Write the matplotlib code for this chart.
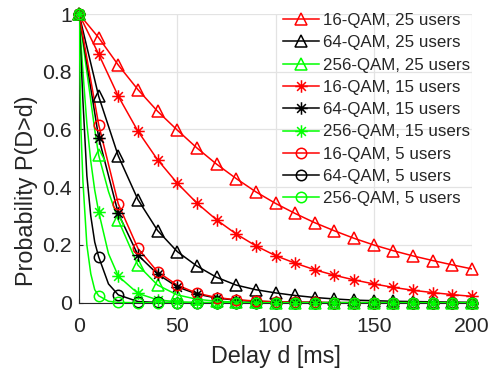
import matplotlib
matplotlib.use("Agg")
import matplotlib.pyplot as plt
from matplotlib.path import Path

# Delay grid at which the marker values are given (ms)
delay = list(range(0, 201, 10))

# P(D > d) for each modulation / user count
qam16_25 = [1, 0.918, 0.823, 0.738, 0.663, 0.598, 0.536, 0.480, 0.430, 0.384, 0.344,
            0.309, 0.277, 0.249, 0.223, 0.200, 0.180, 0.162, 0.146, 0.131, 0.117]
qam64_25 = [1, 0.715, 0.508, 0.357, 0.250, 0.177, 0.127, 0.088, 0.061, 0.045, 0.034,
            0.025, 0.018, 0.013, 0.009, 0.007, 0.005, 0.004, 0.003, 0.002, 0.001]
qam256_25 = [1, 0.511, 0.286, 0.130, 0.061, 0.027, 0.012, 0.005, 0.002, 0.001, 0,
             0, 0, 0, 0, 0, 0, 0, 0, 0, 0]
qam16_15 = [1, 0.861, 0.715, 0.594, 0.495, 0.414, 0.345, 0.287, 0.238, 0.197, 0.163,
            0.137, 0.114, 0.095, 0.079, 0.065, 0.053, 0.043, 0.035, 0.028, 0.022]
qam64_15 = [1, 0.572, 0.309, 0.165, 0.099, 0.055, 0.030, 0.016, 0.009, 0.005, 0.003,
            0.002, 0.001, 0, 0, 0, 0, 0, 0, 0, 0]
qam256_15 = [1, 0.315, 0.092, 0.032, 0.010, 0.003, 0.001, 0, 0, 0, 0,
             0, 0, 0, 0, 0, 0, 0, 0, 0, 0]
qam16_5 = [1, 0.617, 0.342, 0.188, 0.107, 0.061, 0.033, 0.018, 0.010, 0.006, 0.003,
           0.002, 0.001, 0, 0, 0, 0, 0, 0, 0, 0]
qam64_5 = [1, 0.159, 0.027, 0.004, 0.001, 0, 0, 0, 0, 0, 0,
           0, 0, 0, 0, 0, 0, 0, 0, 0, 0]
qam256_5 = [1, 0.024, 0.001, 0, 0, 0, 0, 0, 0, 0, 0,
            0, 0, 0, 0, 0, 0, 0, 0, 0, 0]

# Extra samples of the fast-decaying curves between the markers
extra_delay = [1, 2, 4, 6, 8, 15]
extra_256_25 = [0.95, 0.90, 0.80, 0.70, 0.60, 0.385]
extra_256_15 = [0.90, 0.80, 0.62, 0.49, 0.39, 0.17]
extra_64_5 = [0.85, 0.70, 0.44, 0.30, 0.21, 0.065]
extra_256_5 = [0.60, 0.42, 0.20, 0.10, 0.045, 0.005]

labels = ["16-QAM, 25 users", "64-QAM, 25 users", "256-QAM, 25 users",
          "16-QAM, 15 users", "64-QAM, 15 users", "256-QAM, 15 users",
          "16-QAM, 5 users", "64-QAM, 5 users", "256-QAM, 5 users"]

# Asterisk marker (MATLAB style '*'): plus and cross strokes
asterisk = Path([(-1, 0), (1, 0), (0, -1), (0, 1),
                 (-0.7, -0.7), (0.7, 0.7), (-0.7, 0.7), (0.7, -0.7)],
                [Path.MOVETO, Path.LINETO] * 4)

series = [
    (qam16_25, None, "#ff0000", "^", 8),
    (qam64_25, None, "#000000", "^", 8),
    (qam256_25, extra_256_25, "#00ff00", "^", 8),
    (qam16_15, None, "#ff0000", asterisk, 9),
    (qam64_15, None, "#000000", asterisk, 9),
    (qam256_15, extra_256_15, "#00ff00", asterisk, 9),
    (qam16_5, None, "#ff0000", "o", 7.5),
    (qam64_5, extra_64_5, "#000000", "o", 7.5),
    (qam256_5, extra_256_5, "#00ff00", "o", 7.5),
]

plt.rcParams["font.family"] = ["Liberation Sans", "DejaVu Sans"]

fig = plt.figure(figsize=(4.93, 3.72), dpi=100)
ax = fig.add_axes([79 / 493, 1 - 302.7 / 372, (472 - 79) / 493, (302.7 - 14) / 372])

handles = []
for (vals, extra, color, marker, ms), lab in zip(series, labels):
    if extra is not None:
        pts = sorted(list(zip(delay, vals)) + list(zip(extra_delay, extra)))
        lx = [p[0] for p in pts]
        ly = [p[1] for p in pts]
    else:
        lx, ly = delay, vals
    ax.plot(lx, ly, color=color, lw=1.1, zorder=3)
    ax.plot(delay, vals, linestyle="none", marker=marker, ms=ms,
            markerfacecolor="none", markeredgecolor=color, markeredgewidth=1.1,
            clip_on=False, zorder=4)
    h, = ax.plot([], [], color=color, lw=1.1, marker=marker, ms=ms,
                 markerfacecolor="none", markeredgecolor=color, markeredgewidth=1.1)
    handles.append(h)

ax.set_xlim(0, 200)
ax.set_ylim(0, 1)
ax.set_xticks([0, 50, 100, 150, 200])
ax.set_yticks([0, 0.2, 0.4, 0.6, 0.8, 1])
ax.set_yticklabels(["0", "0.2", "0.4", "0.6", "0.8", "1"])

ax.grid(True, color="#e3e3e3", lw=0.9)
ax.set_axisbelow(True)
for s in ("top", "right"):
    ax.spines[s].set_visible(False)
for s in ("left", "bottom"):
    ax.spines[s].set_color("#262626")
    ax.spines[s].set_linewidth(0.8)
ax.tick_params(direction="in", length=3, width=0.8, color="#262626",
               labelsize=15.3, labelcolor="#262626")
ax.tick_params(axis="x", pad=10)
ax.tick_params(axis="y", pad=5)

ax.set_xlabel("Delay d [ms]", fontsize=16.8, color="#262626", labelpad=7)
ax.set_ylabel("Probability P(D>d)", fontsize=16.8, color="#262626")
ax.yaxis.set_label_coords(-0.104, 0.387)

leg = fig.legend(handles, labels, loc="upper left",
                 bbox_to_anchor=(283 / 493, 1 - 13 / 372),
                 frameon=False, fontsize=12.2, handlelength=2.15,
                 handletextpad=0.2, labelspacing=0.43, borderpad=0,
                 borderaxespad=0)
for t in leg.get_texts():
    t.set_color("#262626")

fig.savefig("out.png", dpi=100)
